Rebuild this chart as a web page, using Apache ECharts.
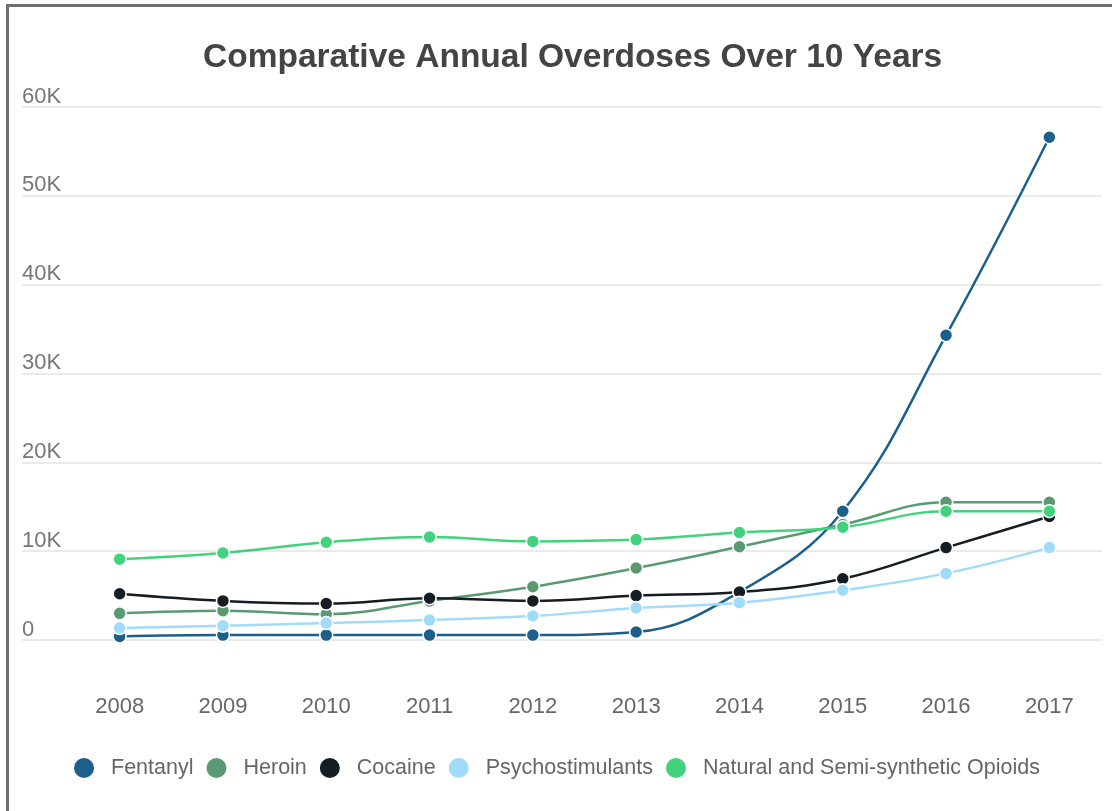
<!DOCTYPE html>
<html>
<head>
<meta charset="utf-8">
<script src="https://cdn.jsdelivr.net/npm/echarts@6/dist/echarts.min.js"></script>
<style>
  body { margin: 0; background: #fff; }
  #chart { width: 1112px; height: 811px; }
  #frame {
    position: absolute; left: 6px; top: 4px; width: 1106px; height: 807px;
    border-left: 3px solid #6e6e6e; border-top: 3px solid #6e6e6e;
    pointer-events: none;
  }
</style>
</head>
<body>
<div id="chart"></div>
<div id="frame"></div>
<script>
// years on the x axis
var years = ['2008', '2009', '2010', '2011', '2012', '2013', '2014', '2015', '2016', '2017'];

// annual overdoses
var fentanyl = [400, 550, 550, 550, 550, 900, 5400, 14500, 34300, 56600];
var heroin = [3000, 3300, 2900, 4400, 6000, 8100, 10500, 13000, 15500, 15500];
var cocaine = [5200, 4400, 4100, 4700, 4400, 5000, 5400, 6900, 10400, 13900];
var psychostimulants = [1350, 1600, 1900, 2250, 2700, 3600, 4200, 5600, 7500, 10400];
var naturalOpioids = [9100, 9800, 11000, 11600, 11100, 11300, 12100, 12700, 14500, 14500];

var seriesNames = ['Fentanyl', 'Heroin', 'Cocaine', 'Psychostimulants', 'Natural and Semi-synthetic Opioids'];
var seriesData = [fentanyl, heroin, cocaine, psychostimulants, naturalOpioids];
var colors = ['#1b5f8a', '#5a9a72', '#141c24', '#a0dbfa', '#42d17c'];

window.onload = function () {
  var myChart = echarts.init(document.getElementById('chart'));
  var font = 'Liberation Sans, Arial, sans-serif';

  var option = {
    animation: false,
    color: colors,
    textStyle: { fontFamily: font },
    title: {
      text: 'Comparative Annual Overdoses Over 10 Years',
      left: 198,
      top: 36,
      textStyle: { fontSize: 33.5, fontWeight: 'bold', color: '#444', fontFamily: font }
    },
    legend: {
      bottom: 26,
      left: 'center',
      icon: 'circle',
      itemWidth: 22,
      itemHeight: 22,
      itemGap: 11,
      textStyle: { fontSize: 21.5, color: '#666', padding: [0, 0, 0, 11], fontFamily: font },
      data: seriesNames
    },
    grid: [
      // grid 0 carries the gridlines and y labels across the full width
      { left: 22, right: 10, top: 107, bottom: 171 },
      // grid 1 holds the lines
      { left: 68, right: 11, top: 107, bottom: 171 }
    ],
    xAxis: [
      { type: 'category', gridIndex: 0, data: years, show: false },
      {
        type: 'category',
        gridIndex: 1,
        data: years,
        boundaryGap: true,
        axisLine: { show: false },
        axisTick: { show: false },
        axisLabel: { margin: 56, fontSize: 22, color: '#666', fontFamily: font }
      }
    ],
    yAxis: [
      {
        type: 'value',
        gridIndex: 0,
        min: 0,
        max: 60000,
        interval: 10000,
        axisLine: { show: false },
        axisTick: { show: false },
        splitLine: { lineStyle: { color: '#e3e3e3', width: 1.5 } },
        axisLabel: {
          inside: true,
          margin: 0,
          verticalAlign: 'bottom',
          lineHeight: 21,
          fontSize: 22,
          color: '#777',
          fontFamily: font,
          formatter: function (v) { return v === 0 ? '0' : (v / 1000) + 'K'; }
        }
      },
      { type: 'value', gridIndex: 1, min: 0, max: 60000, interval: 10000, show: false, splitLine: { show: false } }
    ],
    series: seriesNames.map(function (name, i) {
      return {
        name: name,
        type: 'line',
        xAxisIndex: 1,
        yAxisIndex: 1,
        data: seriesData[i],
        smooth: 0.4,
        symbol: 'circle',
        symbolSize: 13,
        lineStyle: { width: 2.5 },
        itemStyle: { color: colors[i], borderColor: '#fff', borderWidth: 1.5 }
      };
    })
  };

  myChart.setOption(option);
};
</script>
</body>
</html>
